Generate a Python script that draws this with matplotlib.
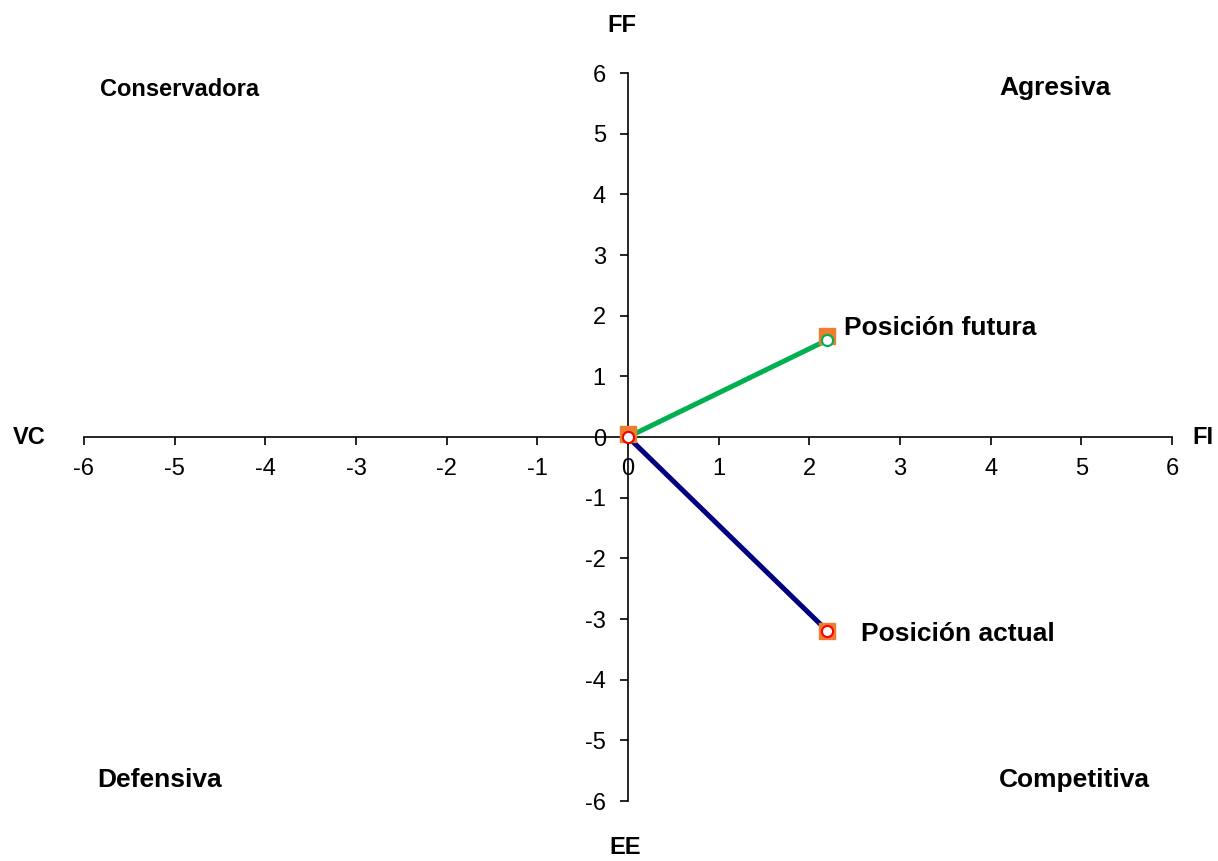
import numpy as np
import matplotlib
matplotlib.use('Agg')
from matplotlib import pyplot as plt

plt.rcParams['font.family'] = ['Liberation Sans', 'DejaVu Sans']

# datos
fi_futura = [0, 2.2]
ff_futura = [0, 1.6]
fi_actual = [0, 2.2]
ff_actual = [0, -3.2]
cuadros_x = [0, 2.2, 2.2]
cuadros_y = [0.05, 1.67, -3.2]
ticks = [-6, -5, -4, -3, -2, -1, 0, 1, 2, 3, 4, 5, 6]
cuadrantes = ['Conservadora', 'Agresiva', 'Defensiva', 'Competitiva']

W, H = 1218, 861
fig = plt.figure(figsize=(W / 100, H / 100), dpi=100)
ax = fig.add_axes([84 / W, (H - 801) / H, (1172 - 84) / W, (801 - 73) / H])

ax.set_xlim(-6, 6)
ax.set_ylim(-6, 6)
ax.spines['left'].set_position(('data', 0))
ax.spines['bottom'].set_position(('data', 0))
ax.spines['top'].set_visible(False)
ax.spines['right'].set_visible(False)
for s in ['left', 'bottom']:
    ax.spines[s].set_linewidth(1.2)
ax.set_xticks(ticks)
ax.set_yticks(ticks)
ax.set_xticklabels([str(t) for t in ticks])
ax.set_yticklabels([str(t) for t in ticks])
ax.tick_params(direction='out', length=6, width=1.2, labelsize=17)
ax.tick_params(axis='x', pad=9)
ax.tick_params(axis='y', pad=10)

ax.plot(fi_futura, ff_futura, color='#00b050', lw=3.6, zorder=3)
ax.plot(fi_actual, ff_actual, color='#000080', lw=3.6, zorder=3)
ax.scatter(cuadros_x, cuadros_y, marker='s', s=140, color='#ed7d31', zorder=4)
ax.plot(fi_futura, ff_futura, ls='none', marker='o', ms=8, mfc='white', mec='#00b050', mew=1.5, zorder=5)
ax.plot(fi_actual, ff_actual, ls='none', marker='o', ms=8, mfc='white', mec='red', mew=1.5, zorder=5)

ax.text(2.38, 1.8, 'Posición futura', fontsize=19, fontweight='bold', va='center', ha='left')
ax.text(2.57, -3.25, 'Posición actual', fontsize=19, fontweight='bold', va='center', ha='left')

kw = dict(fontsize=19, fontweight='bold', va='center', ha='left')
fig.text(100 / W, 1 - 90 / H, cuadrantes[0], fontsize=17, fontweight='bold', va='center', ha='left')
fig.text(999 / W, 1 - 88 / H, cuadrantes[1], **kw)
fig.text(97 / W, 1 - 780 / H, cuadrantes[2], **kw)
fig.text(999 / W, 1 - 780 / H, cuadrantes[3], **kw)

kw2 = dict(fontsize=17, fontweight='bold', va='center', ha='center')
fig.text(622 / W, 1 - 25 / H, 'FF', **kw2)
fig.text(625 / W, 1 - 847 / H, 'EE', **kw2)
fig.text(29 / W, 1 - 437 / H, 'VC', **kw2)
fig.text(1203 / W, 1 - 437 / H, 'FI', **kw2)

fig.savefig('out.png', dpi=100)
